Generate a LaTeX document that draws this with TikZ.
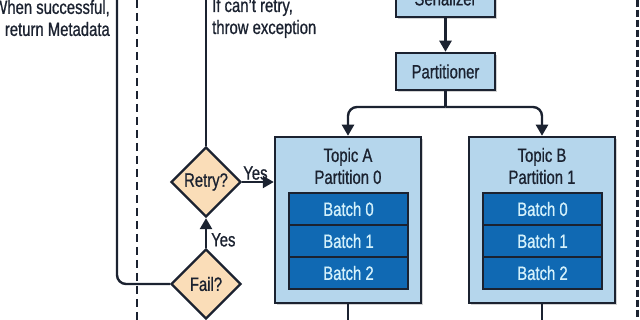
\documentclass[tikz,border=0pt]{standalone}
\usepackage{fontspec}
\setmainfont{Liberation Sans}[FakeStretch=0.77,FakeBold=0.8]
\usetikzlibrary{shapes.geometric,arrows.meta,shadows}
\definecolor{lightblue}{HTML}{B5D6EC}
\definecolor{darkblue}{HTML}{1069B3}
\definecolor{batchtext}{HTML}{D4F1FB}
\definecolor{peach}{HTML}{FADDB8}
\definecolor{ink}{HTML}{1B2230}
\begin{document}
\begin{tikzpicture}[x=1pt,y=-1pt,
  font=\fontsize{19.3}{22}\selectfont,
  box/.style={draw=ink, line width=2.5pt, fill=lightblue, text=ink, inner sep=0pt,
    drop shadow={shadow xshift=2pt, shadow yshift=-2pt, opacity=0.35, fill=gray}},
  batchbox/.style={draw=ink, line width=2.2pt, fill=darkblue, text=batchtext, inner sep=0pt,
    minimum width=119pt, minimum height=32pt},
  decision/.style={shape=diamond, aspect=1, draw=ink, line width=2.3pt, fill=peach, text=ink,
    inner sep=0pt, minimum width=70pt, minimum height=70pt},
  conn/.style={draw=ink, line width=2.4pt},
  arr/.style={conn, -{Triangle[length=11pt,width=12pt]}},
  dashline/.style={draw=ink, line width=2.2pt, dash pattern=on 8pt off 5pt},
  label/.style={text=ink, inner sep=1pt}]
\clip (0,0) rectangle (640,320);
\fill[white] (0,0) rectangle (640,320);

% boxes
\node[box, minimum width=99pt, minimum height=37pt] (ser) at (445.5,-1.5) {Serializer};
\node[box, minimum width=99pt, minimum height=37pt] (part) at (445.5,71.5) {Partitioner};
\node[box, minimum width=146pt, minimum height=166pt] (topicA) at (348,220) {};
\node[box, minimum width=146pt, minimum height=166pt] (topicB) at (542,220) {};
\node[label, align=center] (titleA) at (348,166) {Topic A\\Partition 0};
\node[label, align=center] (titleB) at (542,166) {Topic B\\Partition 1};
\node[batchbox] (a0) at (348.5,209) {Batch 0};
\node[batchbox] (a1) at (348.5,241) {Batch 1};
\node[batchbox] (a2) at (348.5,273) {Batch 2};
\node[batchbox] (b0) at (542.5,209) {Batch 0};
\node[batchbox] (b1) at (542.5,241) {Batch 1};
\node[batchbox] (b2) at (542.5,273) {Batch 2};

% decisions
\node[decision] (retry) at (206,182) {Retry?};
\node[decision] (fail) at (206,284) {Fail?};

% annotations
\node[label, anchor=east, align=right] (succ) at (111,18) {When successful,\\return Metadata};
\node[label, anchor=west, align=left] (cant) at (211,18) {If can't retry,\\throw exception};

% edge coordinates
\coordinate (br) at (445.5,107);
\coordinate (retryTop) at (206,0);
\coordinate (leftTop) at (117,0);
\coordinate (aBot) at (348,320);
\coordinate (bBot) at (542,320);
\coordinate (dashLT) at (137,0);
\coordinate (dashLB) at (137,320);
\coordinate (dashRT) at (637.5,0);
\coordinate (dashRB) at (637.5,320);

% connectors
\draw[arr] (ser.south) -- (part.north);
\draw[conn] (part.south) -- (br);
\draw[arr, rounded corners=9pt] (br) -| (topicA.north);
\draw[arr, rounded corners=9pt] (br) -| (topicB.north);
\draw[conn] (retry.north) -- (retryTop);
\draw[arr] (retry.east) -- (retry.east -| topicA.west)
  node[label, pos=0.42, above] (yes1) {Yes};
\draw[arr] (fail.north) -- (retry.south)
  node[label, pos=0.27, right, xshift=3pt] (yes2) {Yes};
\draw[conn, rounded corners=9pt] (fail.west) -| (leftTop);
\draw[conn] (topicA.south) -- (aBot);
\draw[conn] (topicB.south) -- (bBot);
\draw[dashline] (dashLT) -- (dashLB);
\draw[dashline, line width=3.5pt, dash pattern=on 7pt off 3pt] (dashRT) -- (dashRB);
\end{tikzpicture}
\end{document}
